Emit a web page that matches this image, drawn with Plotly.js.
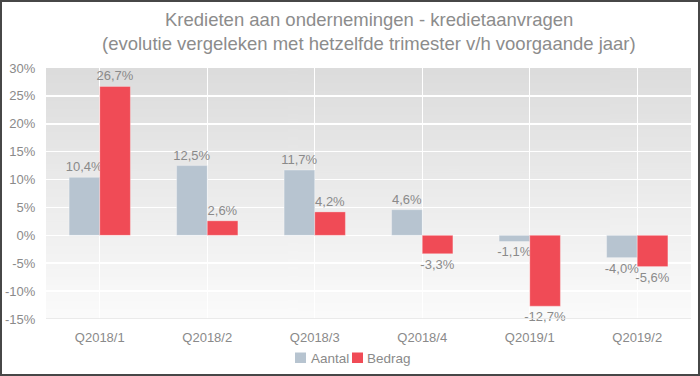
<!DOCTYPE html>
<html>
<head>
<meta charset="utf-8">
<script src="https://cdn.plot.ly/plotly-3.0.1.min.js"></script>
<style>
html,body{margin:0;padding:0;background:#fff;}
#wrap{position:relative;width:700px;height:376px;}
#chart{position:absolute;left:0;top:0;width:700px;height:376px;}
#frame{position:absolute;left:0;top:0;width:700px;height:376px;box-sizing:border-box;border:2px solid #474747;pointer-events:none;z-index:10;}
</style>
</head>
<body>
<div id="wrap"><div id="chart"></div><div id="frame"></div></div>
<script>
const categories = ["Q2018/1", "Q2018/2", "Q2018/3", "Q2018/4", "Q2019/1", "Q2019/2"];
const aantal = [10.4, 12.5, 11.7, 4.6, -1.1, -4.0];
const bedrag = [26.7, 2.6, 4.2, -3.3, -12.7, -5.6];
const yTicks = [-15, -10, -5, 0, 5, 10, 15, 20, 25, 30];
const seriesNames = ["Aantal", "Bedrag"];
const seriesColors = ["#b7c4d0", "#f04b56"];
const titleLines = ["Kredieten aan ondernemingen - kredietaanvragen", "(evolutie vergeleken met hetzelfde trimester v/h voorgaande jaar)"];

function fmt(v){ return v.toFixed(1).replace('.', ',') + '%'; }

// gradient background image for plot area
const cv = document.createElement('canvas');
cv.width = 4; cv.height = 256;
const ctx = cv.getContext('2d');
const g = ctx.createLinearGradient(0, 0, 0, 256);
g.addColorStop(0, '#dcdcdc');
g.addColorStop(1, '#fbfbfb');
ctx.fillStyle = g;
ctx.fillRect(0, 0, 4, 256);
const bgURL = cv.toDataURL('image/png');

const font = "'Liberation Sans', Arial, sans-serif";
const grey = '#8a8a8a';

// plot area geometry in pixels (for paper-coordinate conversion of title/legend)
const PL = 46, PR = 9, PT = 68, PB = 57, W = 700, H = 376;
const PW = W - PL - PR, PH = H - PT - PB;
const px = x => (x - PL) / PW;
const py = y => (H - PB - y) / PH;

const traces = [aantal, bedrag].map((vals, i) => ({
  type: 'bar', name: seriesNames[i], x: categories, y: vals,
  text: vals.map(fmt), textposition: 'outside', cliponaxis: false, constraintext: 'none',
  textfont: {family: font, size: 13, color: grey},
  marker: {color: seriesColors[i], line: {color: 'rgba(255,255,255,0.6)', width: 0.5}},
  showlegend: false
}));

// manual legend (swatch + label)
const legendX = [[295, 306, 309], [352, 363, 365]];
const legendShapes = legendX.map((p, i) => ({
  type: 'rect', xref: 'paper', yref: 'paper',
  x0: px(p[0]), x1: px(p[1]), y0: py(363), y1: py(352.5),
  fillcolor: seriesColors[i], line: {width: 0}
}));
const legendAnns = legendX.map((p, i) => ({
  text: seriesNames[i], xref: 'paper', yref: 'paper', x: px(p[2]), xanchor: 'left',
  y: py(358), yanchor: 'middle', showarrow: false,
  font: {family: font, size: 13.5, color: grey}
}));

const layout = {
  width: W, height: H,
  margin: {l: PL, r: PR, t: PT, b: PB, autoexpand: false},
  paper_bgcolor: '#ffffff',
  plot_bgcolor: 'rgba(0,0,0,0)',
  font: {family: font, color: grey, size: 12},
  barmode: 'group', bargap: 0.43, bargroupgap: 0,
  showlegend: false,
  xaxis: {
    type: 'category', showgrid: true, gridcolor: '#ffffff', gridwidth: 1,
    showline: false, ticks: 'outside', ticklen: 6, tickcolor: 'rgba(0,0,0,0)', automargin: false,
    tickfont: {family: font, size: 13, color: grey}, fixedrange: true
  },
  yaxis: {
    range: [-15, 30], tickvals: yTicks, ticktext: yTicks.map(v => v + '%'),
    showgrid: true, gridcolor: '#ffffff', gridwidth: 1.5, zeroline: false, automargin: false,
    showline: false, ticks: 'outside', ticklen: 7, tickcolor: 'rgba(0,0,0,0)',
    tickfont: {family: font, size: 13, color: grey}, fixedrange: true
  },
  annotations: [
    {text: titleLines[0], xref: 'paper', yref: 'paper', x: 0.5, xanchor: 'center',
     y: py(20), yanchor: 'middle', showarrow: false,
     font: {family: font, size: 18.5, color: '#8c8c8c'}},
    {text: titleLines[1], xref: 'paper', yref: 'paper', x: 0.5, xanchor: 'center',
     y: py(43), yanchor: 'middle', showarrow: false,
     font: {family: font, size: 18.5, color: '#8c8c8c'}}
  ].concat(legendAnns),
  shapes: [{
    type: 'line', xref: 'paper', yref: 'y', x0: 0, x1: 1, y0: -15, y1: -15,
    line: {color: '#e4e4e4', width: 1.5}
  }].concat(legendShapes),
  images: [{
    source: bgURL, xref: 'paper', yref: 'paper', x: 0, y: 1, sizex: 1, sizey: 1,
    sizing: 'stretch', xanchor: 'left', yanchor: 'top', layer: 'below'
  }]
};

Plotly.newPlot('chart', traces, layout, {displayModeBar: false, staticPlot: true});
</script>
</body>
</html>
